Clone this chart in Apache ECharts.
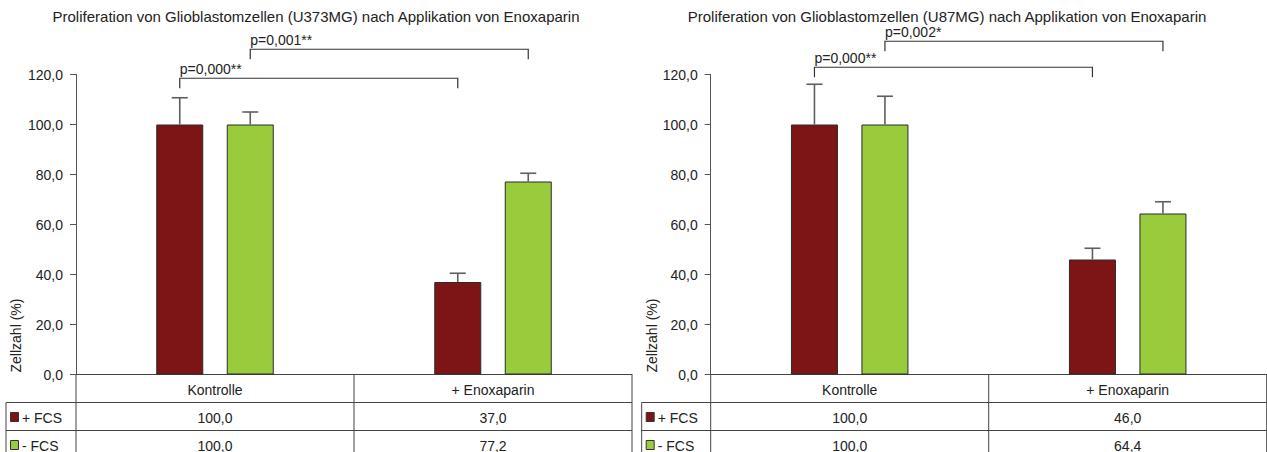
<!DOCTYPE html>
<html>
<head>
<meta charset="utf-8">
<script src="https://cdn.jsdelivr.net/npm/echarts@6/dist/echarts.min.js"></script>
<style>
  html, body { margin: 0; padding: 0; background: #fff; }
  #chart { width: 1267px; height: 452px; }
</style>
</head>
<body>
<div id="chart"></div>
<script>
// values
const categories = ['Kontrolle', '+ Enoxaparin']
const groups = ['+ FCS', '- FCS']
const yTicks = [0, 20, 40, 60, 80, 100, 120]

const u373Title = 'Proliferation von Glioblastomzellen (U373MG) nach Applikation von Enoxaparin'
const u373PlusFcs = [100.0, 37.0]
const u373MinusFcs = [100.0, 77.2]
const u373PlusSd = [10.7, 3.5]
const u373MinusSd = [5.0, 3.3]
const u373Brackets = [
  { text: 'p=0,000**', from: [0, 0], to: [1, 0], y: 118.5 },
  { text: 'p=0,001**', from: [0, 1], to: [1, 1], y: 130.1 }
]

const u87Title = 'Proliferation von Glioblastomzellen (U87MG) nach Applikation von Enoxaparin'
const u87PlusFcs = [100.0, 46.0]
const u87MinusFcs = [100.0, 64.4]
const u87PlusSd = [16.1, 4.5]
const u87MinusSd = [11.3, 4.7]
const u87Brackets = [
  { text: 'p=0,000**', from: [0, 0], to: [1, 0], y: 122.9 },
  { text: 'p=0,002*', from: [0, 1], to: [1, 1], y: 133.3 }
]

// layout
const FONT = '"Liberation Sans", Arial, sans-serif'
const RED = '#7d1517'
const GREEN = '#99cc3c'
const TOP = 74.5
const H = 300
const BAR_W = 47
const OFF = BAR_W * 0.75   // half of bar + half of 50% gap
const ROW = 28
const LEG = 4

const panels = [
  { title: u373Title, titleX: 316, plus: u373PlusFcs, minus: u373MinusFcs, plusSd: u373PlusSd, minusSd: u373MinusSd, brackets: u373Brackets, left: 76, width: 556, tableLeft: 6 },
  { title: u87Title, titleX: 947, plus: u87PlusFcs, minus: u87MinusFcs, plusSd: u87PlusSd, minusSd: u87MinusSd, brackets: u87Brackets, left: 710.7, width: 556, tableLeft: 641.7 }
]

const fmt = v => v.toFixed(1).replace('.', ',')

function errorBar(params, api) {
  const m = api.value(1), sd = api.value(2)
  const base = api.coord([api.value(0), m])
  const top = api.coord([api.value(0), m + sd])
  const x = base[0] + (api.value(3) === 0 ? -OFF : OFF)
  const st = { stroke: '#5f5f5f', lineWidth: 1.6 }
  return {
    type: 'group',
    children: [
      { type: 'line', shape: { x1: x, y1: base[1], x2: x, y2: top[1] }, style: st },
      { type: 'line', shape: { x1: x - 8, y1: top[1], x2: x + 8, y2: top[1] }, style: st }
    ]
  }
}

function bracket(texts) {
  return function (params, api) {
    const x1 = api.coord([api.value(0), 0])[0] + (api.value(1) === 0 ? -OFF : OFF)
    const x2 = api.coord([api.value(2), 0])[0] + (api.value(3) === 0 ? -OFF : OFF)
    const y = api.coord([0, api.value(4)])[1]
    const yl = api.coord([0, api.value(4) - LEG])[1]
    return {
      type: 'group',
      children: [
        { type: 'polyline', shape: { points: [[x1, yl], [x1, y], [x2, y], [x2, yl]] }, style: { stroke: '#333', lineWidth: 1.2, fill: null } },
        { type: 'text', x: x1, y: y - 2, style: { text: texts[params.dataIndex], fill: '#222', font: '14px ' + FONT, align: 'left', verticalAlign: 'bottom' } }
      ]
    }
  }
}

const series = []
const graphic = []

panels.forEach((p, i) => {
  series.push({
    type: 'bar', name: groups[0], xAxisIndex: i, yAxisIndex: i, data: p.plus,
    barWidth: BAR_W, barGap: '50%',
    itemStyle: { color: RED, borderColor: '#2b2b2b', borderWidth: 1 }
  })
  series.push({
    type: 'bar', name: groups[1], xAxisIndex: i, yAxisIndex: i, data: p.minus,
    barWidth: BAR_W, barGap: '50%',
    itemStyle: { color: GREEN, borderColor: '#2b2b2b', borderWidth: 1 }
  })
  series.push({
    type: 'custom', xAxisIndex: i, yAxisIndex: i, clip: false, z: 3,
    renderItem: errorBar,
    data: p.plus.map((v, k) => [k, v, p.plusSd[k], 0]).concat(p.minus.map((v, k) => [k, v, p.minusSd[k], 1]))
  })
  series.push({
    type: 'custom', xAxisIndex: i, yAxisIndex: i, clip: false, z: 4,
    renderItem: bracket(p.brackets.map(b => b.text)),
    data: p.brackets.map(b => [b.from[0], b.from[1], b.to[0], b.to[1], b.y])
  })

  // title and axis name
  graphic.push({ type: 'text', x: p.titleX, y: 16, style: { text: p.title, fill: '#222', font: '15px ' + FONT, align: 'center', verticalAlign: 'middle' } })
  graphic.push({ type: 'text', x: p.tableLeft + 10, y: TOP + H - 2, rotation: Math.PI / 2, style: { text: 'Zellzahl (%)', fill: '#222', font: '14px ' + FONT, align: 'left', verticalAlign: 'middle' } })

  // data table under the axis
  const y0 = TOP + H
  const xa = p.left, xr = p.left + p.width, band = p.width / categories.length
  const ln = (x1, y1, x2, y2) => graphic.push({ type: 'line', shape: { x1, y1, x2, y2 }, style: { stroke: '#444', lineWidth: 1 } })
  for (let c = 0; c <= categories.length; c++) ln(xa + c * band, y0, xa + c * band, y0 + ROW * 3)
  ln(p.tableLeft, y0 + ROW, p.tableLeft, y0 + ROW * 3)
  for (let r = 1; r <= 3; r++) ln(p.tableLeft, y0 + ROW * r, xr, y0 + ROW * r)
  const rows = [p.plus, p.minus]
  rows.forEach((vals, r) => {
    const cy = y0 + ROW * (r + 1) + ROW / 2 + 1
    graphic.push({ type: 'rect', shape: { x: p.tableLeft + 4.5, y: cy - 5, width: 8, height: 9 }, style: { fill: r === 0 ? RED : GREEN, stroke: '#333', lineWidth: 1 } })
    graphic.push({ type: 'text', x: p.tableLeft + 16, y: cy, style: { text: groups[r], fill: '#222', font: '14px ' + FONT, align: 'left', verticalAlign: 'middle' } })
    vals.forEach((v, c) => {
      graphic.push({ type: 'text', x: xa + band * (c + 0.5), y: cy, style: { text: fmt(v), fill: '#222', font: '14px ' + FONT, align: 'center', verticalAlign: 'middle' } })
    })
  })
})

const chart = echarts.init(document.getElementById('chart'), null, { renderer: 'svg' })
chart.setOption({
  animation: false,
  backgroundColor: '#fff',
  grid: panels.map(p => ({ left: p.left, top: TOP, width: p.width, height: H })),
  xAxis: panels.map((p, i) => ({
    type: 'category', gridIndex: i, data: categories,
    axisLine: { lineStyle: { color: '#444', width: 1 } },
    axisTick: { show: false },
    axisLabel: { margin: 8, fontSize: 14, color: '#222', fontFamily: FONT }
  })),
  yAxis: panels.map((p, i) => ({
    type: 'value', gridIndex: i,
    min: yTicks[0], max: yTicks[yTicks.length - 1], interval: yTicks[1] - yTicks[0],
    axisLine: { show: true, lineStyle: { color: '#555', width: 1 } },
    axisTick: { show: true, length: 6, lineStyle: { color: '#555' } },
    splitLine: { show: false },
    axisLabel: { margin: 13, fontSize: 14, color: '#222', fontFamily: FONT, formatter: fmt }
  })),
  series: series,
  graphic: graphic
})
</script>
</body>
</html>
